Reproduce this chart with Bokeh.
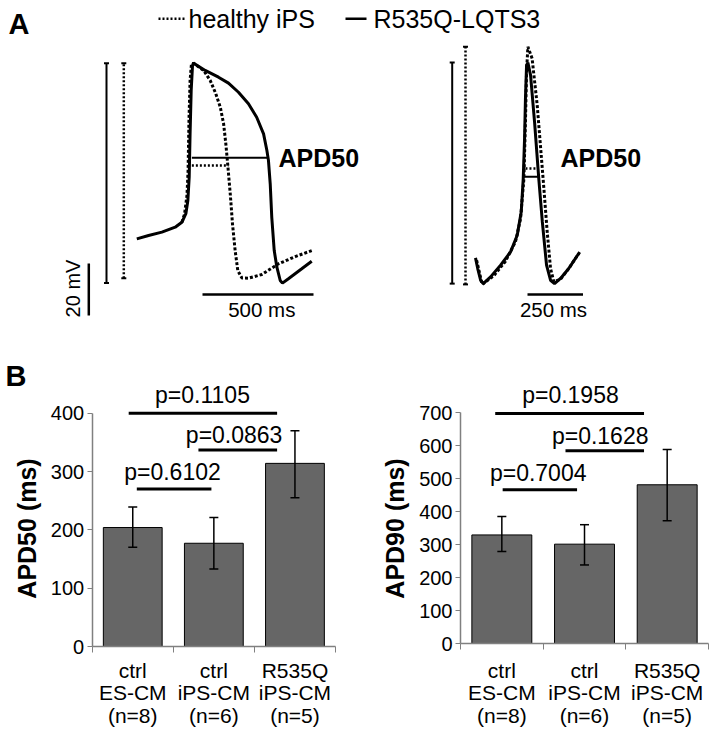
from math import pi
from bokeh.plotting import figure
from bokeh.layouts import column, row
from bokeh.models import Range1d, ColumnDataSource, FixedTicker, Whisker, TeeHead
from bokeh.core.properties import value
from bokeh.embed import file_html
from bokeh.resources import INLINE

FONT = "Liberation Sans"

# ---------------- Panel A data: representative action potentials ----------------
# time in ms (relative to start of each trace), membrane potential in mV
left_lqts_t = [0, 53, 113, 173, 203, 221, 230, 236, 240, 245, 251, 255, 308, 368, 413, 458, 503,
               540, 571, 586, 593, 601, 608, 619, 631, 646, 656, 683, 743, 788]
left_lqts_v = [-59.0, -57.7, -56.4, -54.5, -52.6, -49.3, -44.2, -35.3, -18.5, -1.9, 7.7, 8.6, 5.8,
               3.2, 0.9, -2.6, -7.0, -12.2, -18.6, -25.0, -28.8, -37.8, -50.7, -63.5, -69.9, -75.0,
               -76.0, -74.3, -70.5, -67.6]
left_healthy_t = [203, 215, 226, 231, 235, 240, 246, 255, 301, 331, 356, 376, 391, 401, 410, 421,
                  431, 443, 455, 473, 503, 563, 638, 714, 788]
left_healthy_v = [-52.6, -49.5, -42.3, -32.7, -13.5, 1.9, 8.1, 8.6, 5.8, 1.9, -3.2, -8.3, -14.7,
                  -22.4, -30.8, -41.7, -53.2, -63.5, -71.2, -74.0, -74.1, -72.7, -68.6, -65.8, -63.5]

right_lqts_t = [0, 10, 23, 35, 68, 113, 158, 188, 206, 215, 221, 225, 230, 236, 248, 266, 285, 301,
                320, 338, 356, 383, 420, 465]
right_lqts_v = [-66.3, -70.4, -74.9, -76.2, -73.6, -69.1, -64.0, -57.6, -48.6, -35.8, -20.4, -5.0,
                7.8, 8.8, 4.0, -14.0, -35.8, -52.4, -69.1, -74.9, -76.2, -74.2, -70.4, -64.6]
right_healthy_t = [5, 30, 82, 135, 180, 203, 218, 225, 230, 236, 255, 278, 296, 308, 323, 338, 353,
                   383, 420, 470]
right_healthy_v = [-67.2, -76.5, -73.2, -67.6, -60.1, -51.2, -35.8, -14.0, 5.3, 14.9, 10.4, -7.6,
                   -26.8, -39.6, -56.3, -70.4, -75.5, -74.5, -70.4, -64.0]

# APD50 markers: [healthy, LQTS3] level (mV), start and end time (ms)
apd_left_v = [-30.8, -27.8]
apd_left_t0 = [248, 248]
apd_left_t1 = [413, 593]
apd_right_v = [-31.9, -35.1]
apd_right_t0 = [225, 217]
apd_right_t1 = [278, 289]

scale_mv = 20
scale_ms_left = 500
scale_ms_right = 250

legend_labels = ["healthy iPS", "R535Q-LQTS3"]

# ---------------- Panel B data ----------------
groups = ["ctrl\nES-CM\n(n=8)", "ctrl\niPS-CM\n(n=6)", "R535Q\niPS-CM\n(n=5)"]
apd50_mean = [204, 177, 314]
apd50_upper = [239, 221, 370]
apd50_lower = [170, 133, 255]
apd50_p = ["p=0.6102", "p=0.0863", "p=0.1105"]
apd90_mean = [329, 301, 481]
apd90_upper = [385, 360, 588]
apd90_lower = [279, 238, 372]
apd90_p = ["p=0.7004", "p=0.1628", "p=0.1958"]
apd50_ticks = [0, 100, 200, 300, 400]
apd90_ticks = [0, 100, 200, 300, 400, 500, 600, 700]

# ================= Panel A figure =================
W_A, H_A = 716, 361


def px_t(x):
    return (x - 136.3) / 0.222


def px_v(y):
    return -75 + (280 - y) / 2.6


pA = figure(width=W_A, height=H_A, x_range=Range1d(px_t(0), px_t(W_A)),
            y_range=Range1d(px_v(H_A), px_v(0)), x_axis_type=None, y_axis_type=None,
            min_border=0, toolbar_location=None, output_backend="svg",
            outline_line_color=None)

R_OFF = px_t(475)
DOT = "3 2"


def txt(p, xs, ys, texts, size, bold=False, align="left", angle=0.0):
    p.text(x=xs, y=ys, text=texts, angle=angle, text_align=align, text_baseline="middle",
           text_font=value(FONT), text_font_size=size,
           text_font_style="bold" if bold else "normal", text_color="black")


pA.line(left_healthy_t, left_healthy_v, line_width=3, line_dash=DOT, color="black")
pA.line(left_lqts_t, left_lqts_v, line_width=3, color="black")
pA.line([t + R_OFF for t in right_healthy_t], right_healthy_v, line_width=3, line_dash=DOT,
        color="black")
pA.line([t + R_OFF for t in right_lqts_t], right_lqts_v, line_width=3, color="black")

# APD50 markers
for vs, t0s, t1s, off in [(apd_left_v, apd_left_t0, apd_left_t1, 0),
                          (apd_right_v, apd_right_t0, apd_right_t1, R_OFF)]:
    pA.segment(x0=[t0s[0] + off], y0=[vs[0]], x1=[t1s[0] + off], y1=[vs[0]],
               line_width=2.5, line_dash="2 2", color="black")
    pA.segment(x0=[t0s[1] + off], y0=[vs[1]], x1=[t1s[1] + off], y1=[vs[1]],
               line_width=2, color="black")

# amplitude bars (min to max of each trace)
cap = 2.5 / 0.222
amp_bars = [
    (px_t(106), min(left_lqts_v), max(left_lqts_v), None),
    (px_t(123.3), min(left_healthy_v), max(left_healthy_v), "2 2"),
    (px_t(451.7), min(right_lqts_v), max(right_lqts_v), None),
    (px_t(465), min(right_healthy_v), max(right_healthy_v), "2 2"),
]
for xb, lo, hi, dash in amp_bars:
    if dash:
        pA.segment(x0=[xb], y0=[lo], x1=[xb], y1=[hi], line_width=2.5, line_dash=dash,
                   color="black")
    else:
        pA.segment(x0=[xb], y0=[lo], x1=[xb], y1=[hi], line_width=2, color="black")
    pA.segment(x0=[xb - cap, xb - cap], y0=[lo, hi], x1=[xb + cap, xb + cap], y1=[lo, hi],
               line_width=2, color="black")

# scale bars
mv_bot = px_v(315)
pA.segment(x0=[px_t(88.3)], y0=[mv_bot], x1=[px_t(88.3)], y1=[mv_bot + scale_mv],
           line_width=2.5, color="black")
txt(pA, [px_t(72.5)], [px_v(288)], [f"{scale_mv} mV"], "20px", align="center", angle=pi / 2)

ms_y = px_v(294)
xl0 = px_t(202)
xr0 = px_t(527)
pA.segment(x0=[xl0, xr0], y0=[ms_y, ms_y], x1=[xl0 + scale_ms_left, xr0 + scale_ms_right],
           y1=[ms_y, ms_y], line_width=2.5, color="black")
txt(pA, [px_t(261.3), px_t(553)], [px_v(309.4)] * 2,
    [f"{scale_ms_left} ms", f"{scale_ms_right} ms"], "20.5px", align="center")

# APD50 labels
txt(pA, [px_t(278), px_t(560)], [px_v(157.7)] * 2, ["APD50", "APD50"], "25px", bold=True)

# panel letter
txt(pA, [px_t(8)], [px_v(23)], ["A"], "29px", bold=True)

# legend
leg_y = px_v(18.3)
pA.segment(x0=[px_t(158)], y0=[leg_y], x1=[px_t(184)], y1=[leg_y], line_width=2.5,
           line_dash="2 2", color="black")
pA.segment(x0=[px_t(345)], y0=[leg_y], x1=[px_t(366)], y1=[leg_y], line_width=2.5,
           color="black")
txt(pA, [px_t(188), px_t(373)], [px_v(18)] * 2, legend_labels, "25px")


# ================= Panel B figures =================
H_B = 375
W_B = 358
TOP_B = H_A  # image y of the top of panel B figures


def bar_chart(means, upper, lower, pvals, ylabel, ticks, ppu, zero_img, axis_x, cat_w,
              sig_lines, p_pos, label_standoff, ylabel_pos, letter=None):

    def dx(px):
        return (px - axis_x) / cat_w

    def dy(py):
        return (zero_img - py) / ppu

    p = figure(width=W_B, height=H_B, x_range=Range1d(dx(0), dx(W_B)),
               y_range=Range1d(dy(TOP_B + H_B), dy(TOP_B)),
               min_border=0, toolbar_location=None, output_backend="svg",
               outline_line_color=None)
    p.grid.visible = False
    n = len(groups)
    xs = [i + 0.5 for i in range(n)]
    src = ColumnDataSource(dict(x=xs, top=means, upper=upper, lower=lower))
    p.vbar(x="x", top="top", width=0.725, source=src, fill_color="#666666",
           line_color="black", line_width=1)
    p.add_layout(Whisker(source=src, base="x", upper="upper", lower="lower", level="overlay",
                         line_width=1.5, line_color="black",
                         upper_head=TeeHead(size=9, line_width=1.5, line_color="black"),
                         lower_head=TeeHead(size=9, line_width=1.5, line_color="black")))
    # significance bars
    for (x0, x1, yv) in sig_lines:
        p.segment(x0=[x0], y0=[yv], x1=[x1], y1=[yv], line_width=3, color="black")
    txt(p, [q[0] for q in p_pos], [dy(q[1]) for q in p_pos], pvals, "23px", align="center")

    # y-axis title (centred on the tick span)
    txt(p, [dx(ylabel_pos[0])], [dy(ylabel_pos[1])], [ylabel], "25px", bold=True,
        align="center", angle=pi / 2)
    if letter:
        txt(p, [dx(letter[0])], [dy(letter[1])], [letter[2]], "29px", bold=True)

    xa = p.xaxis[0]
    xa.fixed_location = 0
    xa.bounds = (0, 3)
    xa.ticker = FixedTicker(ticks=xs, minor_ticks=[0, 1, 2, 3])
    xa.major_label_overrides = {x: g for x, g in zip(xs, groups)}
    xa.major_tick_line_color = None
    xa.major_tick_out = 0
    xa.major_tick_in = 0
    xa.minor_tick_in = 0
    xa.minor_tick_out = 6
    xa.minor_tick_line_color = "#808080"
    xa.axis_line_color = "#808080"
    xa.axis_line_width = 1.5
    xa.major_label_standoff = label_standoff
    xa.major_label_text_font = FONT
    xa.major_label_text_font_size = "21px"
    xa.major_label_text_line_height = 0.98
    xa.major_label_text_color = "black"

    ya = p.yaxis[0]
    ya.fixed_location = 0
    ya.ticker = FixedTicker(ticks=ticks)
    ya.bounds = (ticks[0], ticks[-1])
    ya.axis_line_color = "#808080"
    ya.axis_line_width = 1.5
    ya.major_tick_line_color = "#808080"
    ya.major_tick_out = 5
    ya.major_tick_in = 0
    ya.minor_tick_line_color = None
    ya.major_label_standoff = 3
    ya.major_label_text_font = FONT
    ya.major_label_text_font_size = "20px"
    ya.major_label_text_color = "black"
    return p


# positions below are image pixels (x relative to each figure's left edge, y absolute)
pB1 = bar_chart(apd50_mean, apd50_upper, apd50_lower, apd50_p, "APD50 (ms)", apd50_ticks,
                233.3 / 400, 646, 91.7, 81.1,
                [(0.55, 1.47, 270), (1.31, 2.28, 337), (0.45, 2.28, 400)],
                [(0.99, 471.8), (1.75, 434.5), (1.36, 394.5)], 6,
                (26.7, 528), letter=(5, 375, "B"))

pB2 = bar_chart(apd90_mean, apd90_upper, apd90_lower, apd90_p, "APD90 (ms)", apd90_ticks,
                231.0 / 700, 643, 102, 82.67,
                [(0.51, 1.41, 466), (1.27, 2.22, 584), (0.42, 2.22, 697)],
                [(0.94, 472.5), (1.69, 435.1), (1.33, 394.5)], 9,
                (36, 528))

layout = column(pA, row(pB1, pB2))

with open("out.html", "w") as f:
    f.write(file_html(layout, INLINE))
